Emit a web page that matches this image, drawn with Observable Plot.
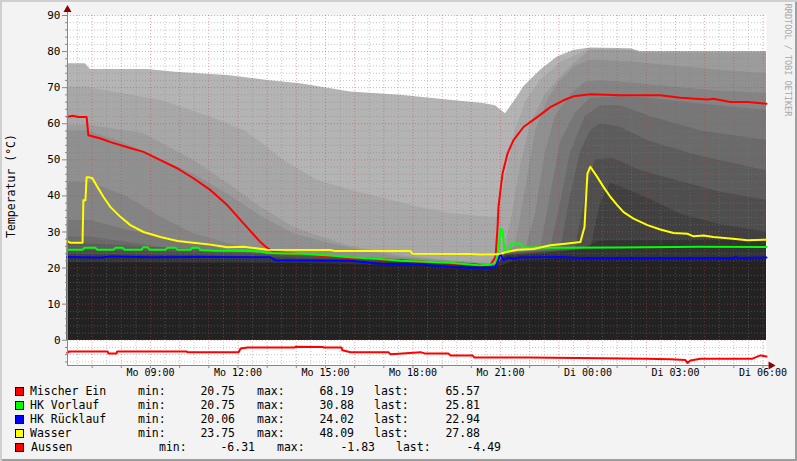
<!DOCTYPE html>
<html><head><meta charset="utf-8">
<script src="https://cdn.jsdelivr.net/npm/d3@7"></script>
<script src="https://cdn.jsdelivr.net/npm/@observablehq/plot@0.6"></script>
<style>
body{margin:0;background:#f3f3f3;}
#wrap{position:relative;width:797px;height:461px;background:#f3f3f3;box-shadow:inset 2px 2px 0 #cfcfcf, inset -2px -2px 0 #9e9e9e;font-family:"DejaVu Sans Mono",monospace;font-size:11.5px;color:#000;overflow:hidden}
#wrap svg{position:absolute;left:0;top:0}
.t{position:absolute;line-height:14px;white-space:pre}
.box{position:absolute;width:7px;height:7px;border:1px solid #000}
</style></head><body><div id="wrap"></div><script>
// ---- data (hours since Monday 00:00, °C) ----
const L1_t=[6.15,6.77,6.94,8.90,9.86,11.64,13.01,14.14,15.86,17.57,19.28,20.42,20.83,21.17,21.58,21.79,22.37,22.95,23.50,24.08,25.46,25.80,30.12];
const L1_v=[76.6,76.6,75,75,74.3,73.4,72,71.1,68.8,67.9,66.5,65.6,65,62.8,67.4,70.2,74.8,78.5,80.3,81,80.8,80,80];
const L2_t=[6.15,6.77,7.05,9.34,11.06,12.19,13.01,13.56,14.73,15.86,16.99,18.15,19.28,20.42,20.90,21.17,21.51,21.86,22.37,23.06,23.74,24.08,25.46,25.80,30.12];
const L2_v=[70.2,70.2,69.7,66.5,61.9,58.2,53.5,49.9,44.3,41.6,39.3,36.9,35.1,34.2,34,45,58,66,72,77,79.5,80.7,80.5,79.8,79.8];
const L3_t=[6.15,6.87,8.76,10.47,11.64,12.77,13.90,14.49,15.86,17.57,19.28,20.83,21.17,21.41,21.68,22.03,22.54,23.06,23.57,24.08,25.46,25.80,30.12];
const L3_v=[59.6,59.6,57.3,49.9,43.5,36.9,31.4,29.6,26,23.5,22,21.2,26,35,48,60,68,73,77,80.4,80.2,79.6,79.6];
const L4_t=[6.15,6.87,7.97,9.00,10.47,11.64,12.77,13.90,14.83,15.86,17.57,19.28,20.83,21.17,21.51,21.86,22.20,22.65,23.06,23.57,24.08,25.46,27.17,28.54,30.12];
const L4_v=[58,58,55,51.5,46,40.5,34.5,29.5,27.5,25.5,23,21.8,21,24.4,26,42,58,67,72,76,77.6,77.2,75.8,74.8,73.9];
const L5_t=[6.15,6.94,8.21,9.34,10.47,11.64,12.77,14.14,15.86,17.57,19.28,20.83,21.17,21.86,22.20,22.54,22.88,23.40,23.91,24.43,25.46,27.17,28.54,30.12];
const L5_v=[43.8,43.8,39.7,34.2,29.6,26.8,24.9,24,23,22.5,21.5,20.9,24.3,25,35,52,62,68,71.5,72,71.3,70,69,68.4];
const L6_t=[6.15,6.94,8.21,9.93,11.64,14.14,17.57,20.83,21.17,22.37,22.71,23.06,23.57,24.08,25.11,26.14,27.86,30.12];
const L6_v=[33.2,33.2,30.5,27.7,25,23.8,22.3,20.8,24.2,25,40,55,63,67,67.5,67,65.5,63.7];
const L7_t=[6.15,6.94,9.34,11.64,14.14,17.57,20.83,21.17,22.71,23.06,23.40,23.91,24.43,25.11,26.14,27.86,30.12];
const L7_v=[28.6,28.6,25.8,24.5,23.6,22.2,20.7,24.1,25,38,52,62,65,65,62,58,55.4];
const L8_t=[6.15,7.29,10.71,14.14,17.57,20.83,21.17,23.06,23.40,23.74,24.08,24.43,25.11,26.14,27.86,30.12];
const L8_v=[26.8,26.5,25,23.4,22.1,20.6,24,25,40,52,58,60,59,55,51,47];
const L9_t=[6.15,9.00,12.43,14.14,17.57,20.83,21.17,23.57,23.91,24.25,24.87,25.80,27.17,28.54,30.12];
const L9_v=[25,24.5,24,23.2,22,20.5,23.8,25,40,50,50.4,47,44,41,38.8];
const L10_t=[6.15,10.71,13.11,14.14,17.57,19.97,20.83,21.17,24.08,24.43,24.77,25.28,26.14,27.17,28.54,30.12];
const L10_v=[23.8,23.5,23,22.6,22,21.3,20.5,23.5,25,38,43.5,42,39,35,32,30];
const L11_t=[6.15,13.11,14.14,17.57,19.97,20.83,21.17,22.37,23.74,24.43,30.12];
const L11_v=[22.8,22.3,22,21.5,20.8,20.4,23.3,24,25,27.5,28];
const L12_t=[6.15,14.14,19.97,20.83,21.17,21.51,23.06,30.12];
const L12_v=[21.5,21.3,20.3,20.1,21,22,22.5,22.5];
const layerColors=["#b4b4b4","#a8a8a8","#9c9c9c","#909090","#848484","#777777","#6a6a6a","#5c5c5c","#4e4e4e","#404040","#333333","#222222"];

const mischer_t=[6.15,6.33,6.53,6.81,6.87,7.29,7.63,8.21,8.76,9.34,9.93,10.47,11.06,11.64,12.19,12.77,13.01,13.22,14.14,15.86,17.57,19.28,19.97,20.31,20.66,20.83,20.90,20.93,21.00,21.07,21.24,21.44,21.79,22.27,22.71,23.16,23.50,24.08,25.11,26.48,27.17,28.09,28.30,28.88,29.47,30.12];
const mischer_v=[61.9,62.2,61.9,61.9,56.8,55.9,54.9,53.5,52.2,49.9,47.6,44.9,41.6,37.4,32.4,27.2,25.5,24.5,23.8,22.8,22.2,21.3,21.0,20.75,20.9,23.1,31.4,36.9,41.6,46.2,51.7,55.4,59.1,61.9,64.6,66.5,67.6,68.19,67.9,67.9,67.2,66.7,66.9,66.0,66.0,65.57];
const vorlauf_t=[6.15,6.67,6.74,7.11,7.18,7.73,7.80,8.04,8.11,8.69,8.76,8.90,8.97,9.51,9.58,9.86,9.93,10.37,10.44,10.65,10.71,11.23,12.09,12.77,13.01,14.14,15.17,15.86,16.88,17.57,18.26,19.28,19.97,20.31,20.66,20.83,20.93,21.00,21.07,21.14,21.27,21.37,21.68,21.75,23.06,25.11,27.86,30.12];
const vorlauf_v=[25.1,25.1,25.6,25.6,25.1,25.1,25.6,25.6,25.1,25.1,25.8,25.8,25.1,25.1,25.6,25.6,25.1,25.1,25.6,25.6,25.0,24.8,24.9,24.6,24.2,24.0,23.5,23.0,22.5,22.0,21.8,21.5,21.0,20.75,20.9,21.5,25,30.88,30.5,24.5,24.8,26.8,26.8,25.8,25.6,25.7,25.9,25.81];
const ruecklauf_t=[6.15,7.29,7.63,9.00,10.71,13.11,13.28,15.86,16.88,18.26,19.28,19.97,20.66,20.83,21.00,21.10,21.27,21.44,21.68,23.06,23.74,28.99,29.06,29.16,30.12];
const ruecklauf_v=[23.1,22.9,23.2,23.0,23.1,23.0,22.2,22.0,21.2,21.0,20.3,20.06,20.1,20.3,24.02,22.2,22.9,22.6,22.9,23.1,22.8,22.8,23.2,22.8,22.94];
const wasser_t=[6.15,6.26,6.67,6.70,6.77,6.81,6.87,7.01,7.18,7.39,7.63,7.97,8.31,8.76,9.34,9.93,10.47,11.06,11.64,12.19,13.01,15.17,15.34,17.91,17.98,19.97,20.31,20.90,21.24,21.58,22.13,22.71,23.30,23.74,23.88,23.98,24.08,24.32,24.53,24.77,25.01,25.22,25.56,26.04,26.48,26.93,27.41,27.62,27.96,28.30,28.88,29.47,30.12];
const wasser_v=[27.5,27.0,27.0,38.8,38.8,45.2,45.2,44.9,42.5,39.7,36.9,34.2,31.9,30.0,28.6,27.5,27.0,26.5,25.8,25.9,25.1,25.0,24.7,24.7,24.0,23.9,23.75,23.8,24.5,25.1,25.3,26.3,26.8,27.2,31.4,46.2,48.09,45.2,42.5,39.7,37.4,35.5,33.7,31.9,30.7,29.7,29.5,28.8,29.0,28.6,28.2,27.7,27.88];
const aussen_t=[6.15,6.22,7.53,7.56,7.83,7.86,10.23,10.27,12.02,12.09,12.33,13.94,13.97,14.90,14.93,15.55,15.58,15.86,17.16,17.23,17.64,18.26,18.43,19.22,19.28,20.04,20.11,21.96,24.43,25.97,26.83,27.34,27.41,27.51,27.86,29.64,29.91,30.12];
const aussen_v=[-3.5,-3.1,-3.1,-3.7,-3.7,-3.1,-3.1,-3.3,-3.3,-2.3,-2.0,-2.0,-1.83,-1.85,-2.0,-2.0,-2.8,-3.3,-3.3,-3.9,-3.7,-3.3,-3.7,-3.7,-4.2,-4.2,-4.8,-4.8,-5.0,-5.1,-5.3,-5.5,-6.31,-5.6,-5.1,-5.1,-4.2,-4.49];

const seriesNames=["Mischer Ein","HK Vorlauf","HK Rücklauf","Wasser","Aussen"];
const seriesColors=["#ff0000","#00ff00","#0000ff","#ffff00","#ff0000"];
const seriesMin=["20.75","20.75","20.06","23.75","-6.31"];
const seriesMax=["68.19","30.88","24.02","48.09","-1.83"];
const seriesLast=["65.57","25.81","22.94","27.88","-4.49"];

const xDomain=[6.155,30.12];
const yDomain=[-7,90];
const yTicks=d3.range(0,91,10);
const xLabelTicks=[9,12,15,18,21,24,27,30];
const yTitle="Temperatur (°C)";
const credit="RRDTOOL / TOBI OETIKER";

// ---- build ----
const zip=(t,v)=>t.map((x,i)=>({t:x,v:v[i]}));
const layers=[[L1_t,L1_v],[L2_t,L2_v],[L3_t,L3_v],[L4_t,L4_v],[L5_t,L5_v],[L6_t,L6_v],[L7_t,L7_v],[L8_t,L8_v],[L9_t,L9_v],[L10_t,L10_v],[L11_t,L11_v],[L12_t,L12_v]];
const minorY=d3.range(-6,91,2).filter(v=>v%10!==0);
const minorX=d3.range(6.5,30.2,1);
const majorX=d3.range(7,31,1);
const fmt=h=>(h<24?"Mo ":"Di ")+String(h%24).padStart(2,"0")+":00";
const lines=[[mischer_t,mischer_v],[vorlauf_t,vorlauf_v],[ruecklauf_t,ruecklauf_v],[wasser_t,wasser_v],[aussen_t,aussen_v]];

const chart=Plot.plot({
  width:797,height:461,
  marginLeft:67,marginRight:31,marginTop:15,marginBottom:96,
  x:{domain:xDomain},
  y:{domain:yDomain},
  style:{background:"transparent",fontFamily:"DejaVu Sans Mono",fontSize:"11px",color:"#000",overflow:"visible"},
  marks:[
    Plot.frame({fill:"white",stroke:"none"}),
    ...layers.map((L,i)=>Plot.areaY(zip(L[0],L[1]),{x:"t",y:"v",fill:layerColors[i],curve:"linear"})),
    Plot.ruleY(minorY,{stroke:"rgb(128,128,128)",strokeOpacity:0.45,strokeDasharray:"1,2"}),
    Plot.ruleX(minorX,{stroke:"rgb(128,128,128)",strokeOpacity:0.45,strokeDasharray:"1,2"}),
    Plot.ruleY(yTicks,{stroke:"rgb(200,60,60)",strokeOpacity:0.45,strokeDasharray:"1,2"}),
    Plot.ruleX(majorX,{stroke:"rgb(200,60,60)",strokeOpacity:0.45,strokeDasharray:"1,2"}),
    ...lines.map((L,i)=>Plot.line(zip(L[0],L[1]),{x:"t",y:"v",stroke:seriesColors[i],strokeWidth:2,curve:"linear"})),
    Plot.axisY({ticks:minorY,tickSize:2,tickFormat:()=>"",stroke:"#888",label:null}),
    Plot.axisY({ticks:yTicks,tickSize:5,tickPadding:2,tickFormat:d=>String(d),stroke:"#888",label:null,fontSize:11}),
    Plot.axisX({ticks:majorX,tickSize:3,tickFormat:()=>"",stroke:"#888",label:null}),
    Plot.axisX({ticks:xLabelTicks,tickSize:0,tickPadding:3,tickFormat:fmt,label:null,fontSize:10}),
    Plot.ruleX([xDomain[0]],{y1:yDomain[0],y2:yDomain[1]+1.4,stroke:"#888"}),
    Plot.ruleY([yDomain[0]],{x1:xDomain[0],x2:xDomain[1]+0.1,stroke:"#888"}),
    Plot.dot([{x:xDomain[0],y:yDomain[1]+1.6}],{x:"x",y:"y",symbol:"triangle",r:3,fill:"#8b0000",stroke:"none"}),
    Plot.dot([{x:xDomain[1]+0.15,y:yDomain[0]}],{x:"x",y:"y",symbol:"triangle",r:3,fill:"#8b0000",stroke:"none",rotate:90})
  ]
});
const wrap=document.getElementById("wrap");
wrap.appendChild(chart);

// y title
const yt=document.createElement("div");
yt.className="t";yt.textContent=yTitle;
yt.style.cssText="left:11px;top:186px;transform:translate(-50%,-50%) rotate(-90deg);";
wrap.appendChild(yt);
// credit
const cr=document.createElement("div");
cr.className="t";cr.textContent=credit;
cr.style.cssText="left:788px;top:60px;transform:translate(-50%,-50%) rotate(90deg);font-size:8.5px;color:#a8a8a8;line-height:10px;";
wrap.appendChild(cr);

// legend
seriesNames.forEach((name,i)=>{
  const top=384+i*14;
  const cols=i<4?[138,235,257,354,374,480]:[159,255,277,375,396,501];
  const b=document.createElement("div");b.className="box";
  b.style.left="15px";b.style.top=(top+3)+"px";b.style.background=seriesColors[i];wrap.appendChild(b);
  const add=(txt,left,right)=>{const d=document.createElement("div");d.className="t";d.textContent=txt;d.style.top=top+"px";
    if(right!==undefined){d.style.right=(797-right)+"px";}else d.style.left=left+"px";wrap.appendChild(d);};
  add(name,i<4?30:31);
  add("min:",cols[0]);add(seriesMin[i],undefined,cols[1]);
  add("max:",cols[2]);add(seriesMax[i],undefined,cols[3]);
  add("last:",cols[4]);add(seriesLast[i],undefined,cols[5]);
});
</script></body></html>
